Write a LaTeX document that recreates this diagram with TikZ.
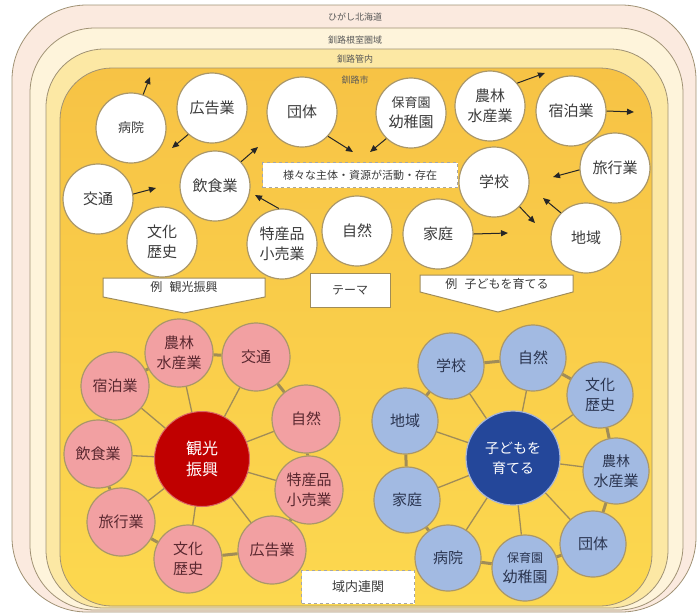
\documentclass[tikz,border=0pt]{standalone}
\usepackage{fontspec}
\setmainfont{Noto Sans CJK JP}
\usetikzlibrary{arrows.meta}
\definecolor{fA}{HTML}{FBEADF}
\definecolor{fB}{HTML}{FEF4DB}
\definecolor{fC}{HTML}{FCE8A4}
\definecolor{goldT}{HTML}{F7C345}
\definecolor{goldB}{HTML}{FCD84F}
\definecolor{frl}{HTML}{A09274}
\definecolor{olive}{HTML}{A08C58}
\definecolor{txt}{HTML}{3C3C3C}
\definecolor{pinkF}{HTML}{F2A0A2}
\definecolor{pinkT}{HTML}{5A2830}
\definecolor{blueF}{HTML}{A2BAE2}
\definecolor{blueT}{HTML}{2B3550}
\definecolor{redC}{HTML}{C00000}
\definecolor{blueC}{HTML}{24479A}
\begin{document}
\begin{tikzpicture}[x=1pt,y=-1pt,
  fr/.style={draw=frl,line width=0.8pt},
  lab/.style={font=\fontsize{9}{10}\selectfont,text=txt!85},
  wc/.style={circle,draw=olive!90,line width=1.2pt,fill=white,minimum size=70pt,inner sep=0pt,align=center,text=txt,font=\fontsize{15}{20}\selectfont},
  pc/.style={circle,draw=olive!90,line width=1.2pt,fill=pinkF,minimum size=68pt,inner sep=0pt,align=center,text=pinkT,font=\fontsize{15}{20}\selectfont},
  bc/.style={circle,draw=olive!90,line width=1.2pt,fill=blueF,minimum size=66pt,inner sep=0pt,align=center,text=blueT,font=\fontsize{15}{20}\selectfont},
  arr/.style={draw=black!85,line width=1pt,-{Triangle[length=7pt,width=6pt]}},
  spoke/.style={draw=olive,line width=1.3pt},
  ring/.style={draw=olive,line width=3pt},
  dbox/.style={draw=gray!70,dashed,line width=0.8pt,fill=white,text=txt,inner sep=0pt},
  tbox/.style={draw=olive,line width=1pt,fill=white},
  ttxt/.style={text=txt,font=\fontsize{12}{14}\selectfont}
]
\useasboundingbox (0,0) rectangle (700,614);
% frames
\draw[fr,fill=fA,rounded corners=75pt] (12,5) rectangle (696,612);
\draw[fr,fill=fB,rounded corners=65pt] (30,28) rectangle (683,610);
\draw[fr,fill=fC,rounded corners=58pt] (46,49) rectangle (668,608);
\draw[fr,top color=goldT,bottom color=goldB,rounded corners=52pt] (60,68) rectangle (652,606);
\node[lab] (l1) at (355,17) {ひがし北海道};
\node[lab] (l2) at (355,40) {釧路根室圏域};
\node[lab] (l3) at (355,59) {釧路管内};
\node[lab] (l4) at (355,80) {釧路市};

% top white circles
\node[wc] (byoin) at (131,128) {\fontsize{13}{16}\selectfont 病院};
\node[wc] (kokoku) at (212,108) {広告業};
\node[wc] (dantai) at (302,112) {団体};
\node[wc] (hoiku) at (411,113) {\fontsize{13}{17}\selectfont 保育園\\幼稚園};
\node[wc] (norin) at (490,106) {農林\\水産業};
\node[wc] (shuku) at (571,111) {宿泊業};
\node[wc] (kotsu) at (98,199) {交通};
\node[wc] (inshoku) at (215,186) {飲食業};
\node[wc] (gakko) at (494,182) {学校};
\node[wc] (ryoko) at (615,168) {旅行業};
\node[wc] (bunka) at (162,242) {文化\\歴史};
\node[wc] (tokusan) at (282,244) {特産品\\小売業};
\node[wc] (shizen) at (357,231) {自然};
\node[wc] (katei) at (438,234) {家庭};
\node[wc] (chiiki) at (586,238) {地域};

\node[dbox,minimum width=195pt,minimum height=25pt,font=\fontsize{11}{12}\selectfont] (sama) at (360,175) {様々な主体・資源が活動・存在};

% arrows
\coordinate (t1) at (150,77);
\coordinate (t2) at (172,148);
\coordinate (t3) at (353,152);
\coordinate (t4) at (156,188);
\coordinate (t5) at (258,147);
\coordinate (t6) at (255,195);
\coordinate (t7) at (370,152);
\coordinate (t8) at (545,73);
\coordinate (t9) at (634,112);
\coordinate (t10) at (553,177);
\coordinate (t11) at (535,223);
\coordinate (t12) at (543,198);
\coordinate (t13) at (508,233);
\draw[arr] (byoin.70) -- (t1);
\draw[arr] (kokoku.228) -- (t2);
\draw[arr] (dantai.317) -- (t3);
\draw[arr] (kotsu.8) -- (t4);
\draw[arr] (inshoku.43) -- (t5);
\draw[arr] (tokusan.95) -- (t6);
\draw[arr] (hoiku.226) -- (t7);
\draw[arr] (norin.40) -- (t8);
\draw[arr] (shuku.0) -- (t9);
\draw[arr] (ryoko.183) -- (t10);
\draw[arr] (gakko.316) -- (t11);
\draw[arr] (chiiki.135) -- (t12);
\draw[arr] (katei.0) -- (t13);

% theme boxes
\draw[tbox] (103,278) -- (265,278) -- (265,297) -- (184,313) -- (103,297) -- cycle;
\node[ttxt] (ex1) at (184,287) {例\hspace{0.6em}観光振興};
\node[tbox,ttxt,minimum width=80pt,minimum height=34pt,inner sep=0pt] (theme) at (350,290) {テーマ};
\draw[tbox] (420,275) -- (573,275) -- (573,292) -- (498,312) -- (420,292) -- cycle;
\node[ttxt] (ex2) at (497,284) {例\hspace{0.6em}子どもを育てる};

% pink cluster
\node[circle,fill=redC,draw=redC!60,line width=1pt,minimum size=95pt,inner sep=0pt,align=center,text=white,font=\fontsize{16}{21}\selectfont] (kanko) at (202,459) {観光\\振興};
\node[pc] (p1) at (179,353) {農林\\水産業};
\node[pc] (p2) at (256,357) {交通};
\node[pc] (p3) at (306,419) {自然};
\node[pc] (p4) at (309,490) {特産品\\小売業};
\node[pc] (p5) at (272,550) {広告業};
\node[pc] (p6) at (188,559) {文化\\歴史};
\node[pc] (p7) at (121,522) {旅行業};
\node[pc] (p8) at (98,454) {飲食業};
\node[pc] (p9) at (115,386) {宿泊業};
\foreach \i in {1,...,9} {\draw[spoke] (kanko) -- (p\i);}
\draw[ring] (p1) -- (p2); \draw[ring] (p2) -- (p3); \draw[ring] (p3) -- (p4);
\draw[ring] (p4) -- (p5); \draw[ring] (p5) -- (p6); \draw[ring] (p6) -- (p7);
\draw[ring] (p7) -- (p8); \draw[ring] (p8) -- (p9); \draw[ring] (p9) -- (p1);

% blue cluster
\node[circle,fill=blueC,draw=blueC!40,line width=1.2pt,minimum size=94pt,inner sep=0pt,align=center,text=white,font=\fontsize{14}{20}\selectfont] (kodomo) at (513,458) {子どもを\\育てる};
\node[bc] (b1) at (451,366) {学校};
\node[bc] (b2) at (533,358) {自然};
\node[bc] (b3) at (600,395) {文化\\歴史};
\node[bc] (b4) at (616,471) {\fontsize{14}{18}\selectfont 農林\\水産業};
\node[bc] (b5) at (593,544) {団体};
\node[bc] (b6) at (525,568) {\fontsize{12}{16}\selectfont 保育園\\幼稚園};
\node[bc] (b7) at (448,558) {病院};
\node[bc] (b8) at (407,500) {家庭};
\node[bc] (b9) at (405,421) {地域};
\foreach \i in {1,...,9} {\draw[spoke] (kodomo) -- (b\i);}
\draw[ring] (b1) -- (b2); \draw[ring] (b2) -- (b3); \draw[ring] (b3) -- (b4);
\draw[ring] (b4) -- (b5); \draw[ring] (b5) -- (b6); \draw[ring] (b6) -- (b7);
\draw[ring] (b7) -- (b8); \draw[ring] (b8) -- (b9); \draw[ring] (b9) -- (b1);

\node[dbox,minimum width=113pt,minimum height=33pt,font=\fontsize{13}{14}\selectfont] (ikinai) at (358,587) {域内連関};
\end{tikzpicture}
\end{document}
